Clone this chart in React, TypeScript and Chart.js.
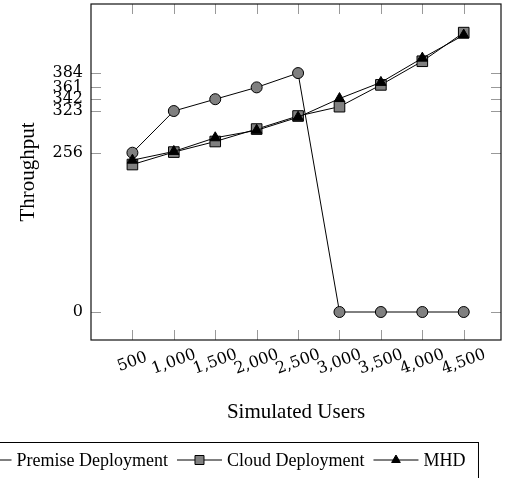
import React, { useEffect, useRef } from "react";
import { Chart, registerables } from "chart.js";

Chart.register(...registerables);

// ---- data ----
const users = [500, 1000, 1500, 2000, 2500, 3000, 3500, 4000, 4500];
const xTickLabels = ["500", "1,000", "1,500", "2,000", "2,500", "3,000", "3,500", "4,000", "4,500"];
const premise = [256, 323, 342, 361, 384, 0, 0, 0, 0];
const cloud = [237, 257, 274, 294, 315, 330, 365, 403, 449];
const mhd = [244, 258, 280, 292, 313, 343, 369, 408, 445];
const yTicks = [0, 256, 323, 342, 361, 384];
const seriesNames = ["Premise Deployment", "Cloud Deployment", "MHD"];
const xTitle = "Simulated Users";
const yTitle = "Throughput";

const SERIF = '"Liberation Serif", "Times New Roman", serif';
const NUMFONT = '"DejaVu Serif", serif';

function drawMarker(ctx: CanvasRenderingContext2D, kind: string, x: number, y: number) {
  ctx.save();
  ctx.lineWidth = 1;
  ctx.strokeStyle = "#000";
  ctx.beginPath();
  if (kind === "circle") {
    ctx.fillStyle = "#808080";
    ctx.arc(x, y, 5.5, 0, Math.PI * 2);
  } else if (kind === "rect") {
    ctx.fillStyle = "#808080";
    ctx.rect(x - 4.5, y - 4.5, 9, 9);
  } else {
    ctx.fillStyle = "#000";
    const r = 5;
    ctx.moveTo(x, y - r);
    ctx.lineTo(x + r * 0.866, y + r / 2);
    ctx.lineTo(x - r * 0.866, y + r / 2);
    ctx.closePath();
  }
  ctx.fill();
  ctx.stroke();
  ctx.restore();
}

const framePlugin = {
  id: "frameAndTicks",
  beforeDatasetsDraw(chart: any) {
    const { ctx, chartArea: a, scales } = chart;
    ctx.save();
    ctx.strokeStyle = "#999";
    ctx.lineWidth = 1;
    ctx.beginPath();
    users.forEach((u) => {
      const x = Math.round(scales.x.getPixelForValue(u)) + 0.5;
      ctx.moveTo(x, a.top);
      ctx.lineTo(x, a.top + 10);
      ctx.moveTo(x, a.bottom);
      ctx.lineTo(x, a.bottom - 10);
    });
    yTicks.forEach((v) => {
      const y = Math.round(scales.y.getPixelForValue(v)) + 0.5;
      ctx.moveTo(a.left, y);
      ctx.lineTo(a.left + 10, y);
      ctx.moveTo(a.right, y);
      ctx.lineTo(a.right - 10, y);
    });
    ctx.stroke();
    ctx.restore();
  },
  afterDraw(chart: any) {
    const { ctx, chartArea: a, scales } = chart;
    // frame
    ctx.save();
    ctx.strokeStyle = "#111";
    ctx.lineWidth = 1.2;
    ctx.strokeRect(a.left, a.top, a.right - a.left, a.bottom - a.top);
    ctx.restore();

    // rotated x tick labels, centred on the ticks
    ctx.save();
    ctx.fillStyle = "#000";
    ctx.font = `16px ${NUMFONT}`;
    ctx.textAlign = "center";
    ctx.textBaseline = "middle";
    users.forEach((u, i) => {
      const x = scales.x.getPixelForValue(u);
      ctx.save();
      ctx.translate(x, a.bottom + 22);
      ctx.rotate((-20 * Math.PI) / 180);
      ctx.fillText(xTickLabels[i], 0, 0);
      ctx.restore();
    });
    ctx.restore();

    // legend box
    ctx.save();
    ctx.font = `18px ${SERIF}`;
    const sample = 45;
    const gapText = 5;
    const gapEntry = 9;
    const kinds = ["circle", "rect", "triangle"];
    const widths = seriesNames.map((n) => ctx.measureText(n).width);
    let W = 0;
    widths.forEach((w, i) => {
      W += sample + gapText + w + (i < widths.length - 1 ? gapEntry : 0);
    });
    const cx = 216;
    let sx = cx - W / 2;
    const ly = 460;
    ctx.strokeStyle = "#000";
    ctx.lineWidth = 1;
    ctx.strokeRect(sx - 8, 442.5, W + 21, 50);
    kinds.forEach((k, i) => {
      ctx.beginPath();
      ctx.strokeStyle = "#000";
      ctx.lineWidth = 1;
      ctx.moveTo(sx, ly);
      ctx.lineTo(sx + sample, ly);
      ctx.stroke();
      drawMarker(ctx, k, sx + sample / 2, ly);
      ctx.fillStyle = "#000";
      ctx.textAlign = "left";
      ctx.textBaseline = "alphabetic";
      ctx.fillText(seriesNames[i], sx + sample + gapText, 466);
      sx += sample + gapText + widths[i] + gapEntry;
    });
    ctx.restore();
  },
};

export default function App() {
  const ref = useRef<HTMLCanvasElement | null>(null);
  useEffect(() => {
    if (!ref.current) return;
    const mk = (arr: number[]) => users.map((u, i) => ({ x: u, y: arr[i] }));
    const chart = new Chart(ref.current, {
      type: "line",
      data: {
        datasets: [
          {
            label: seriesNames[0],
            data: mk(premise),
            borderColor: "#000",
            borderWidth: 1,
            pointStyle: "circle",
            pointRadius: 5.5,
            pointBackgroundColor: "#808080",
            pointBorderColor: "#000",
            pointBorderWidth: 1,
            tension: 0,
            fill: false,
            order: 3,
          },
          {
            label: seriesNames[1],
            data: mk(cloud),
            borderColor: "#000",
            borderWidth: 1,
            pointStyle: "rect",
            pointRadius: 7.5,
            pointBackgroundColor: "#808080",
            pointBorderColor: "#000",
            pointBorderWidth: 1,
            tension: 0,
            fill: false,
            order: 2,
          },
          {
            label: seriesNames[2],
            data: mk(mhd),
            borderColor: "#000",
            borderWidth: 1,
            pointStyle: "triangle",
            pointRadius: 6,
            pointBackgroundColor: "#000",
            pointBorderColor: "#000",
            pointBorderWidth: 1,
            tension: 0,
            fill: false,
            order: 1,
          },
        ],
      },
      options: {
        responsive: false,
        animation: false,
        devicePixelRatio: 1,
        layout: { autoPadding: false, padding: { left: 0, top: 4, right: 8, bottom: 0 } },
        plugins: { legend: { display: false }, tooltip: { enabled: false } },
        scales: {
          x: {
            type: "linear",
            min: 0,
            max: 4950,
            grid: { display: false, drawTicks: false },
            border: { display: false },
            ticks: { display: false },
            afterBuildTicks: (s: any) => {
              s.ticks = users.map((v) => ({ value: v }));
            },
            afterFit: (s: any) => {
              s.height = 138;
              s.paddingLeft = 0;
              s.paddingRight = 0;
            },
            title: {
              display: true,
              text: xTitle,
              color: "#000",
              font: { family: SERIF, size: 21 },
              padding: { top: 0, bottom: 53 },
            },
          },
          y: {
            type: "linear",
            min: -45,
            max: 495,
            grid: { display: false, drawTicks: false },
            border: { display: false },
            afterBuildTicks: (s: any) => {
              s.ticks = yTicks.map((v) => ({ value: v }));
            },
            afterFit: (s: any) => {
              s.width = 91;
              s.paddingTop = 0;
              s.paddingBottom = 0;
            },
            ticks: {
              autoSkip: false,
              padding: 8,
              color: "#000",
              font: { family: NUMFONT, size: 16 },
              callback: (v: any) => String(v),
            },
            title: {
              display: true,
              text: yTitle,
              color: "#000",
              font: { family: SERIF, size: 21 },
              padding: { top: 16, bottom: 0 },
            },
          },
        },
      },
      plugins: [framePlugin],
    });
    return () => chart.destroy();
  }, []);
  return (
    <div style={{ position: "absolute", left: 0, top: 0, width: 509, height: 478, background: "#fff" }}>
      <canvas ref={ref} width={509} height={478} />
    </div>
  );
}
